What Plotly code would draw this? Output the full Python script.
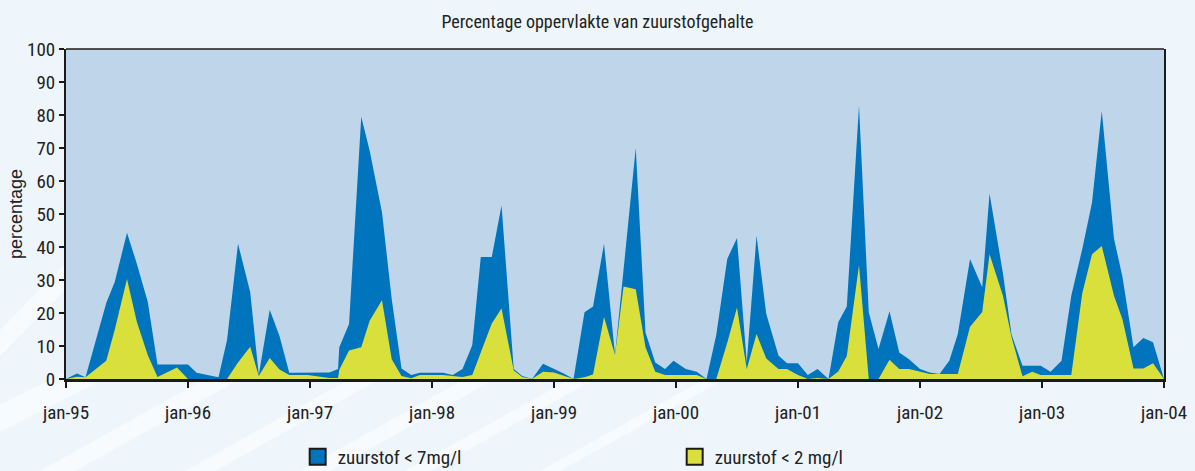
import plotly.graph_objects as go

# Tijdstippen van de metingen (decimale jaren) en de percentages
tijd = [
    1995.00, 1995.09, 1995.16, 1995.33, 1995.40, 1995.50, 1995.58, 1995.67, 1995.75, 1995.91,
    1996.00, 1996.07, 1996.25, 1996.32, 1996.41, 1996.51, 1996.58, 1996.67, 1996.75, 1996.83,
    1996.98, 1997.16, 1997.23, 1997.24, 1997.32, 1997.42, 1997.49, 1997.59, 1997.67, 1997.75,
    1997.83, 1997.90, 1998.09, 1998.17, 1998.25, 1998.33, 1998.40, 1998.49, 1998.57, 1998.67,
    1998.74, 1998.82, 1998.91, 1999.00, 1999.08, 1999.16, 1999.25, 1999.32, 1999.41, 1999.50,
    1999.57, 1999.67, 1999.75, 1999.83, 1999.91, 1999.98, 2000.08, 2000.17, 2000.25, 2000.33,
    2000.42, 2000.50, 2000.58, 2000.66, 2000.74, 2000.84, 2000.91, 2001.00, 2001.08, 2001.16,
    2001.25, 2001.33, 2001.40, 2001.50, 2001.58, 2001.66, 2001.75, 2001.83, 2001.91, 2002.00,
    2002.08, 2002.16, 2002.24, 2002.31, 2002.41, 2002.51, 2002.57, 2002.68, 2002.75, 2002.84,
    2002.92, 2002.99, 2003.07, 2003.16, 2003.24, 2003.33, 2003.41, 2003.49, 2003.59, 2003.66,
    2003.75, 2003.83, 2003.91, 2004.00,
]

zuurstof_7 = [
    0, 1.7, 0.5, 23, 29.5, 44.3, 35, 23.4, 4.4, 4.4,
    4.4, 1.9, 0.5, 11.8, 41, 26.3, 1.2, 21, 13, 1.9,
    1.9, 2, 3, 9.6, 16.7, 79.5, 69, 50.5, 24.2, 3.2,
    1.2, 1.9, 1.9, 1.2, 3, 10.2, 37, 37, 52.6, 3,
    0.9, 0, 4.6, 3, 1.7, 0, 20.2, 22, 41, 7.3,
    34, 70, 14.1, 5, 3, 5.5, 3, 2.2, 0, 13.3,
    36.4, 42.7, 5, 43.4, 19.7, 7.1, 4.8, 4.8, 1.2, 3,
    0, 17.2, 22, 82.8, 20.2, 9.1, 20.5, 8, 6, 3,
    2, 1.5, 5.5, 13.6, 36.4, 27.8, 56.2, 32, 13.5, 4,
    4, 4, 2.2, 5.5, 25.2, 39.4, 53.5, 81.2, 42.6, 30.8,
    9.6, 12.4, 11.1, 0,
]

zuurstof_2 = [
    0, 0.7, 0.5, 5.5, 15, 30.3, 17.4, 7.3, 0.6, 3.5,
    0, 0, 0, 0, 5, 9.8, 0.9, 6.4, 2.9, 1.2,
    1.2, 0.3, 0.3, 2.8, 8.6, 9.6, 17.7, 23.9, 6, 0.9,
    0.2, 1.2, 1.2, 0.8, 0.6, 1.2, 8, 16.8, 21.4, 2.6,
    0.6, 0, 2.2, 2, 1, 0, 0.5, 1.4, 18.8, 7.3,
    28, 27.2, 9.6, 2.2, 1.2, 1.2, 1.2, 1.2, 0, 0,
    11, 21.7, 3, 13.6, 6.2, 3, 3, 1.2, 0, 0.3,
    0, 2.3, 7, 34.5, 0, 0, 5.8, 3, 3, 2.2,
    1.5, 1.5, 1.5, 1.5, 15.8, 20.3, 37.8, 25.2, 12.7, 0.8,
    2.2, 1.2, 1.2, 1.2, 1.2, 26, 37.8, 40.3, 25.2, 18,
    3.2, 3.2, 4.8, 0,
]

jaren = [1995, 1996, 1997, 1998, 1999, 2000, 2001, 2002, 2003, 2004]
jaar_labels = ["jan-95", "jan-96", "jan-97", "jan-98", "jan-99", "jan-00",
               "jan-01", "jan-02", "jan-03", "jan-04"]

BLAUW = "#0074BD"
GEEL = "#D9E03B"
lettertype = "Liberation Sans Narrow, Arial Narrow, Roboto Condensed, sans-serif"

W, H = 1195, 471
L, R, T, B = 66, 31, 49, 92


def papier(px, py):
    # pixelpositie omrekenen naar paper-coördinaten (alleen voor de decoratie)
    return (px - L) / (W - L - R), (H - B - py) / (H - T - B)


def band(punten):
    pts = [papier(px, py) for px, py in punten]
    return "M " + " L ".join(f"{x:.4f} {y:.4f}" for x, y in pts) + " Z"


fig = go.Figure()

# Gevulde vlakken (blauw achter, geel ervoor)
fig.add_trace(go.Scatter(x=tijd, y=zuurstof_7, mode="lines", fill="tozeroy",
                         line=dict(width=0, color=BLAUW), fillcolor=BLAUW,
                         showlegend=False, hoverinfo="skip"))
fig.add_trace(go.Scatter(x=tijd, y=zuurstof_2, mode="lines", fill="tozeroy",
                         line=dict(width=0, color=GEEL), fillcolor=GEEL,
                         showlegend=False, hoverinfo="skip"))

# Legenda met vierkantjes
fig.add_trace(go.Scatter(x=[None], y=[None], mode="markers", name="zuurstof < 7mg/l",
                         marker=dict(symbol="square", size=16, color=BLAUW,
                                     line=dict(color="#1a1a1a", width=2))))
fig.add_trace(go.Scatter(x=[None], y=[None], mode="markers", name="zuurstof < 2 mg/l",
                         marker=dict(symbol="square", size=16, color=GEEL,
                                     line=dict(color="#1a1a1a", width=2))))

# Witte decoratieve banen op de achtergrond
banen = [
    [(0, 330), (0, 356), (140, 215), (140, 189)],
    [(0, 405), (0, 432), (200, 330), (200, 305)],
    [(40, 471), (75, 471), (240, 379), (205, 379)],
    [(185, 471), (215, 471), (380, 379), (350, 379)],
    [(300, 471), (330, 471), (495, 379), (465, 379)],
    [(405, 471), (430, 471), (595, 379), (570, 379)],
    [(540, 471), (560, 471), (725, 379), (705, 379)],
]
for b in banen:
    fig.add_shape(type="path", xref="paper", yref="paper", layer="below",
                  path=band(b), fillcolor="white", line=dict(width=0), opacity=0.55)

# Plotvlak als rechthoek boven de decoratie
fig.add_shape(type="rect", xref="paper", yref="paper", layer="below",
              x0=0, x1=1, y0=0, y1=1, fillcolor="#BFD6EA", line=dict(width=0))
# Bovenrand van het plotvlak
fig.add_shape(type="line", xref="paper", yref="paper", x0=0, x1=1, y0=1, y1=1,
              line=dict(color="#1a1a1a", width=1.5))

fig.update_layout(
    width=W, height=H,
    margin=dict(l=L, r=R, t=T, b=B, autoexpand=False),
    paper_bgcolor="#EEF6FC",
    plot_bgcolor="rgba(0,0,0,0)",
    font=dict(family=lettertype, size=19, color="#222222"),
    title=dict(text="Percentage oppervlakte van zuurstofgehalte",
               x=0.5, xanchor="center", y=0.953, yanchor="middle",
               font=dict(family=lettertype, size=18, color="#222222")),
    legend=dict(orientation="h", x=0.211, xanchor="left", y=-0.236, yanchor="middle",
                entrywidth=332, entrywidthmode="pixels", itemwidth=30,
                bgcolor="rgba(0,0,0,0)", font=dict(size=19)),
    showlegend=True,
)

fig.update_xaxes(
    range=[1995, 2004], tickvals=jaren, ticktext=jaar_labels,
    showgrid=False, zeroline=False,
    ticks="outside", ticklen=6, tickwidth=2, tickcolor="#1a1a1a",
    ticklabelstandoff=8,
    showline=True, linecolor="#1a1a1a", linewidth=3, mirror=False,
)
fig.update_yaxes(
    range=[0, 100], dtick=10,
    showgrid=False, zeroline=False,
    ticks="outside", ticklen=5, tickwidth=2, tickcolor="#1a1a1a",
    showline=True, linecolor="#1a1a1a", linewidth=2, mirror=True,
    title=dict(text="percentage", font=dict(family="Liberation Sans, Arial, sans-serif", size=18),
               standoff=0),
)

fig.write_html("out.html", config={"displayModeBar": False},
               post_script="document.body.style.margin='0';")
